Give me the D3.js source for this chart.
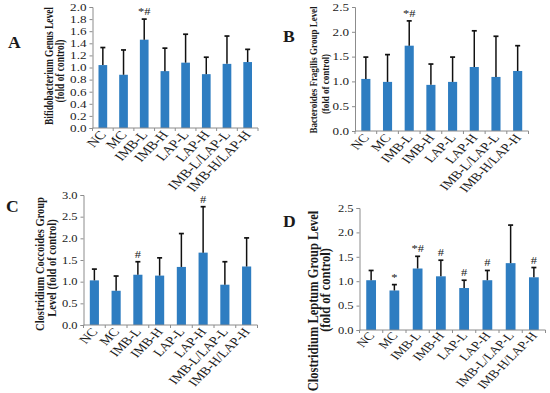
<!DOCTYPE html>
<html>
<head>
<meta charset="utf-8">
<script src="https://cdn.jsdelivr.net/npm/d3@7"></script>
<style>
  body { margin: 0; background: #fff; }
  svg { display: block; font-family: "Liberation Serif", "Times New Roman", serif; }
</style>
</head>
<body>
<svg id="chart" width="550" height="393"></svg>
<script>
// groups on the x axis
const categories = ["NC", "MC", "IMB-L", "IMB-H", "LAP-L", "LAP-H", "IMB-L/LAP-L", "IMB-H/LAP-H"];

// A: Bifidobacterium
const meanA = [1.04, 0.88, 1.46, 0.94, 1.08, 0.89, 1.06, 1.09];
const sdA = [0.29, 0.41, 0.34, 0.38, 0.47, 0.28, 0.46, 0.21];
const marksA = ["", "", "*#", "", "", "", "", ""];
const ticksA = [0, 0.2, 0.4, 0.6, 0.8, 1.0, 1.2, 1.4, 1.6, 1.8, 2.0];

// B: Bacteroides Fragilis
const meanB = [1.05, 0.99, 1.72, 0.93, 0.99, 1.29, 1.09, 1.21];
const sdB = [0.44, 0.55, 0.50, 0.42, 0.50, 0.73, 0.82, 0.51];
const marksB = ["", "", "*#", "", "", "", "", ""];
const ticksB = [0, 0.5, 1.0, 1.5, 2.0, 2.5];

// C: Clostridium Coccoides
const meanC = [1.03, 0.79, 1.16, 1.14, 1.34, 1.67, 0.93, 1.35];
const sdC = [0.26, 0.34, 0.30, 0.41, 0.77, 1.06, 0.53, 0.66];
const marksC = ["", "", "#", "", "", "#", "", ""];
const ticksC = [0, 0.5, 1.0, 1.5, 2.0, 2.5, 3.0];

// D: Clostridium Leptum
const meanD = [1.02, 0.81, 1.26, 1.10, 0.86, 1.02, 1.37, 1.08];
const sdD = [0.20, 0.12, 0.25, 0.33, 0.16, 0.20, 0.78, 0.20];
const marksD = ["", "*", "*#", "#", "#", "#", "", "#"];
const ticksD = [0, 0.5, 1.0, 1.5, 2.0, 2.5];

const barColor = "#2e7dc1";
const axisColor = "#8c8c8c";
const textColor = "#1a1a1a";
// the source figure is stretched sideways, text looks wide
const sx = 1.25;

const svg = d3.select("#chart");

// one panel = one small excel style bar chart
function drawPanel(p) {
  const x = d3.scaleBand().domain(categories).range([p.x0, p.x1]).paddingInner(0.58).paddingOuter(0.29);
  const y = d3.scaleLinear().domain([0, p.max]).range([p.yBottom, p.yTop]);
  const g = svg.append("g");
  const cx = d => x(d) + x.bandwidth() / 2;

  // bars
  g.selectAll("rect.bar")
    .data(categories)
    .join("rect")
    .attr("class", "bar")
    .attr("x", d => x(d))
    .attr("width", x.bandwidth())
    .attr("y", (d, i) => y(p.mean[i]))
    .attr("height", (d, i) => y(0) - y(p.mean[i]))
    .attr("fill", barColor);

  // upper error bars
  g.selectAll("line.err")
    .data(categories)
    .join("line")
    .attr("x1", cx).attr("x2", cx)
    .attr("y1", (d, i) => y(p.mean[i]))
    .attr("y2", (d, i) => y(p.mean[i] + p.sd[i]))
    .attr("stroke", "#111").attr("stroke-width", 1.5);
  g.selectAll("line.cap")
    .data(categories)
    .join("line")
    .attr("x1", d => cx(d) - 2.5).attr("x2", d => cx(d) + 2.5)
    .attr("y1", (d, i) => y(p.mean[i] + p.sd[i]))
    .attr("y2", (d, i) => y(p.mean[i] + p.sd[i]))
    .attr("stroke", "#111").attr("stroke-width", 1.7);

  // significance marks
  g.selectAll("text.mark")
    .data(categories)
    .join("text")
    .attr("transform", (d, i) => `translate(${cx(d)},${y(p.mean[i] + p.sd[i]) - 4}) scale(${sx},1)`)
    .attr("text-anchor", "middle")
    .attr("font-size", p.markSize)
    .attr("fill", textColor)
    .text((d, i) => p.marks[i]);

  // y axis
  const yAxis = d3.axisLeft(y).tickValues(p.ticks).tickFormat(d3.format(".1f")).tickSizeOuter(0).tickSize(3);
  const ya = g.append("g").attr("transform", `translate(${p.x0},0)`).call(yAxis);
  ya.select(".domain").attr("stroke", axisColor);
  ya.selectAll(".tick line").attr("stroke", axisColor);
  ya.selectAll(".tick text")
    .attr("x", null)
    .attr("transform", `translate(-6,0) scale(${sx},1)`)
    .attr("font-size", p.tickSize)
    .attr("font-family", "Liberation Serif")
    .attr("fill", textColor);

  // x axis: line with ticks between the groups
  g.append("line")
    .attr("x1", p.x0).attr("x2", p.x1)
    .attr("y1", y(0)).attr("y2", y(0))
    .attr("stroke", axisColor);
  const step = x.step();
  g.selectAll("line.xtick")
    .data(d3.range(categories.length + 1))
    .join("line")
    .attr("x1", i => p.x0 + i * step)
    .attr("x2", i => p.x0 + i * step)
    .attr("y1", y(0)).attr("y2", y(0) + 3)
    .attr("stroke", axisColor);

  // rotated category labels
  g.selectAll("text.cat")
    .data(categories)
    .join("text")
    .attr("transform", d => `translate(${cx(d) + 4},${y(0) + p.catDy}) scale(${sx},1) rotate(-51)`)
    .attr("text-anchor", "end")
    .attr("font-size", p.catSize)
    .attr("fill", textColor)
    .text(d => d);

  // y title, two lines, bold
  p.title.forEach((t, i) => {
    g.append("text")
      .attr("transform", `translate(${p.titleX[i]},${p.titleY[i]}) scale(${sx},1) rotate(-90)`)
      .attr("text-anchor", "middle")
      .attr("font-weight", "bold")
      .attr("font-size", p.titleSize)
      .attr("fill", textColor)
      .text(t);
  });

  // panel letter
  svg.append("text")
    .attr("transform", `translate(${p.letterX},${p.letterY}) scale(1.1,1)`)
    .attr("font-weight", "bold")
    .attr("font-size", 16)
    .attr("fill", textColor)
    .text(p.letter);
}

drawPanel({
  letter: "A", letterX: 8, letterY: 48,
  mean: meanA, sd: sdA, marks: marksA, ticks: ticksA, max: 2.0,
  x0: 92.5, x1: 258, yTop: 7, yBottom: 128,
  tickSize: 10.5, catSize: 12, catDy: 7, markSize: 10, titleSize: 9.4,
  title: ["Bifidobacterium Genus Level", "(fold of control)"],
  titleX: [53, 64], titleY: [66, 71]
});

drawPanel({
  letter: "B", letterX: 283, letterY: 42,
  mean: meanB, sd: sdB, marks: marksB, ticks: ticksB, max: 2.5,
  x0: 355, x1: 528.5, yTop: 7, yBottom: 131,
  tickSize: 10.5, catSize: 11.5, catDy: 7, markSize: 10, titleSize: 9,
  title: ["Bacteroides Fragilis Group Level", "(fold of control)"],
  titleX: [317, 329], titleY: [70, 84]
});

drawPanel({
  letter: "C", letterX: 6, letterY: 212,
  mean: meanC, sd: sdC, marks: marksC, ticks: ticksC, max: 3.0,
  x0: 83.5, x1: 257.5, yTop: 195, yBottom: 325,
  tickSize: 10, catSize: 11.5, catDy: 7, markSize: 10, titleSize: 10.5,
  title: ["Clostridium Coccoides Group", "Level (fold of control)"],
  titleX: [44, 56], titleY: [264, 268]
});

drawPanel({
  letter: "D", letterX: 283, letterY: 227,
  mean: meanD, sd: sdD, marks: marksD, ticks: ticksD, max: 2.5,
  x0: 359.5, x1: 545.5, yTop: 208, yBottom: 330,
  tickSize: 10, catSize: 11.2, catDy: 6, markSize: 10, titleSize: 12.5,
  title: ["Clostridium Leptum Group Level", "(fold of control)"],
  titleX: [318, 330], titleY: [301, 290]
});
</script>
</body>
</html>
